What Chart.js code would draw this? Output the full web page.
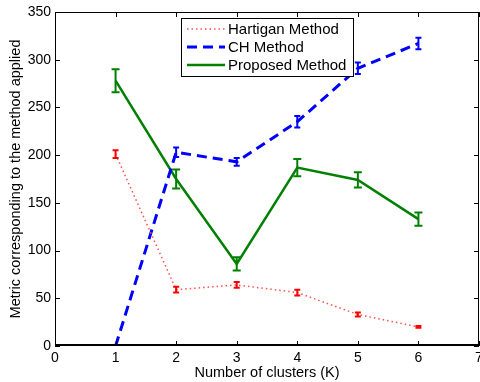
<!DOCTYPE html>
<html>
<head>
<meta charset="utf-8">
<script src="https://cdn.jsdelivr.net/npm/chart.js@4"></script>
<style>
  html, body { margin: 0; padding: 0; background: #fff; }
  #wrap { width: 480px; height: 382px; }
</style>
</head>
<body>
<div id="wrap"><canvas id="chart" width="480" height="382"></canvas></div>
<script>
const clusters = [1, 2, 3, 4, 5, 6];
const hartigan = [201, 59, 64, 56, 33, 20];
const hartiganErr = [4, 3, 3, 3, 2, 1];
const chMethod = [0, 203, 193, 235, 291, 317];
const chErr = [0, 5, 4, 6, 6, 6];
const proposed = [278, 175, 86, 187, 174, 133];
const proposedErr = [12, 10, 7, 9, 8, 7];
const seriesNames = ['Hartigan Method', 'CH Method', 'Proposed Method'];
const xTicks = [0, 1, 2, 3, 4, 5, 6, 7];
const yTicks = [0, 50, 100, 150, 200, 250, 300, 350];

const FONT = '"Liberation Sans", Arial, sans-serif';

function points(values) {
  return clusters.map((k, i) => ({ x: k, y: values[i] }));
}

// error bars, frame, inward ticks and the boxed legend
const errorBars = {
  id: 'errorBars',
  afterDatasetsDraw(chart) {
    const { ctx, scales: { x, y }, chartArea: a } = chart;
    ctx.save();
    chart.data.datasets.forEach(ds => {
      ctx.strokeStyle = ds.barColor;
      ctx.lineWidth = 2;
      ctx.setLineDash([]);
      ds.data.forEach((p, i) => {
        const e = ds.errors[i];
        if (!e) return;
        const px = x.getPixelForValue(p.x);
        const top = y.getPixelForValue(p.y + e);
        const bot = y.getPixelForValue(p.y - e);
        const w = ds.capWidth;
        ctx.beginPath();
        ctx.moveTo(px, top); ctx.lineTo(px, bot);
        ctx.moveTo(px - w, top); ctx.lineTo(px + w, top);
        ctx.moveTo(px - w, bot); ctx.lineTo(px + w, bot);
        ctx.stroke();
      });
    });

    // frame
    ctx.strokeStyle = '#000';
    ctx.lineWidth = 1;
    ctx.strokeRect(a.left + 0.5, a.top + 0.5, a.right - a.left - 1, a.bottom - a.top - 1);
    ctx.lineWidth = 2;
    ctx.beginPath();
    ctx.moveTo(a.left, a.bottom - 1); ctx.lineTo(a.right, a.bottom - 1);
    ctx.stroke();
    ctx.lineWidth = 1;
    ctx.beginPath();
    xTicks.forEach(t => {
      const px = Math.round(x.getPixelForValue(t)) + 0.5;
      ctx.moveTo(px, a.bottom); ctx.lineTo(px, a.bottom - 5);
      ctx.moveTo(px, a.top); ctx.lineTo(px, a.top + 5);
    });
    yTicks.forEach(t => {
      const py = Math.round(y.getPixelForValue(t)) + 0.5;
      ctx.moveTo(a.left, py); ctx.lineTo(a.left + 5, py);
      ctx.moveTo(a.right, py); ctx.lineTo(a.right - 5, py);
    });
    ctx.stroke();

    // legend box
    const lx = 181, ly = 18, lw = 172, lh = 58;
    ctx.fillStyle = '#fff';
    ctx.fillRect(lx, ly, lw, lh);
    ctx.strokeStyle = '#000';
    ctx.lineWidth = 1;
    ctx.strokeRect(lx + 0.5, ly + 0.5, lw, lh);
    ctx.font = '15px ' + FONT;
    ctx.textBaseline = 'middle';
    chart.data.datasets.forEach((ds, i) => {
      const ry = ly + 11 + i * 18;
      ctx.strokeStyle = ds.borderColor;
      ctx.lineWidth = ds.borderWidth;
      ctx.setLineDash(ds.borderDash || []);
      ctx.beginPath();
      ctx.moveTo(lx + 6, ry); ctx.lineTo(lx + 44, ry);
      ctx.stroke();
      ctx.setLineDash([]);
      ctx.fillStyle = '#000';
      ctx.fillText(ds.label, lx + 47, ry + 1);
    });
    ctx.restore();
  }
};

new Chart(document.getElementById('chart'), {
  type: 'line',
  data: {
    datasets: [
      {
        label: seriesNames[0],
        data: points(hartigan),
        errors: hartiganErr,
        borderColor: '#ff5050',
        barColor: '#ff0000',
        capWidth: 3,
        borderWidth: 1.5,
        borderDash: [1.5, 3],
        pointRadius: 0,
        fill: false
      },
      {
        label: seriesNames[1],
        data: points(chMethod),
        errors: chErr,
        borderColor: '#0000ff',
        barColor: '#0000ff',
        capWidth: 3,
        borderWidth: 3,
        borderDash: [10, 6],
        pointRadius: 0,
        fill: false
      },
      {
        label: seriesNames[2],
        data: points(proposed),
        errors: proposedErr,
        borderColor: '#008000',
        barColor: '#008000',
        capWidth: 4,
        borderWidth: 2.5,
        pointRadius: 0,
        fill: false
      }
    ]
  },
  options: {
    responsive: false,
    animation: false,
    layout: { padding: { top: 12, right: 1, left: 0, bottom: 0 } },
    plugins: {
      legend: { display: false },
      tooltip: { enabled: false }
    },
    scales: {
      x: {
        type: 'linear',
        min: 0, max: 7,
        afterBuildTicks: s => { s.ticks = xTicks.map(v => ({ value: v })); },
        afterFit: s => { s.height = 36; s.paddingLeft = 0; s.paddingRight = 0; },
        grid: { display: false, drawTicks: false },
        border: { display: false },
        ticks: { color: '#000', font: { family: FONT, size: 14 }, padding: 4 },
        title: {
          display: true,
          text: 'Number of clusters (K)',
          color: '#000',
          font: { family: FONT, size: 14.5 },
          padding: { top: 0, bottom: 0 }
        }
      },
      y: {
        min: 0, max: 350,
        afterBuildTicks: s => { s.ticks = yTicks.map(v => ({ value: v })); },
        afterFit: s => { s.width = 55; s.paddingTop = 0; s.paddingBottom = 0; },
        grid: { display: false, drawTicks: false },
        border: { display: false },
        ticks: { color: '#000', font: { family: FONT, size: 14 }, padding: 4 },
        title: {
          display: true,
          text: 'Metric corresponding to the method applied',
          color: '#000',
          font: { family: FONT, size: 14.5 },
          padding: { top: 7, bottom: 2 }
        }
      }
    }
  },
  plugins: [errorBars]
});
</script>
</body>
</html>
